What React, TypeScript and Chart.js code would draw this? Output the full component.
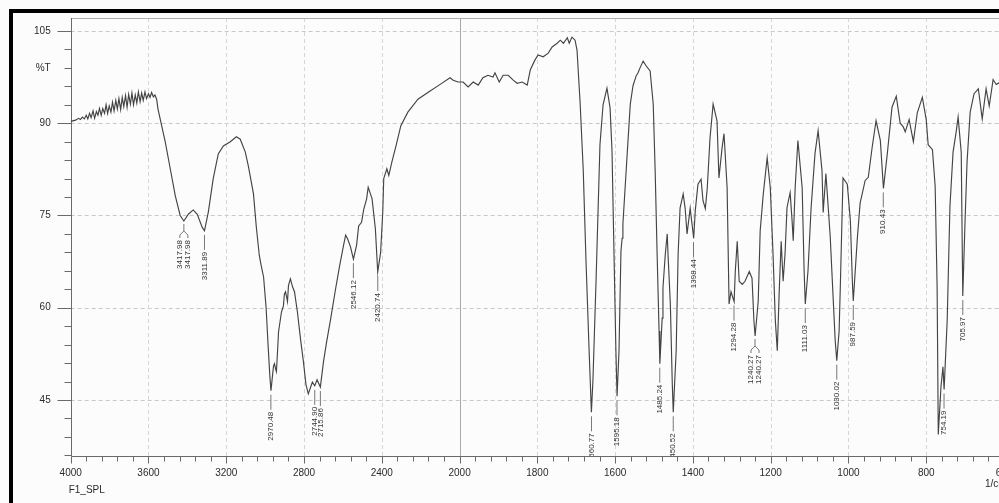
import React, { useEffect, useRef } from 'react';
import { Chart, registerables } from 'chart.js';

Chart.register(...registerables);

// Spectrum: wavenumber (1/cm) and transmittance (%T)
const wavenumbers = [
  4000, 3975, 3960, 3950, 3940, 3930, 3920, 3912, 3903, 3895, 3885, 3877, 3868, 3860, 3852, 3843, 3835, 3826, 3818, 3810,
  3802, 3793, 3785, 3777, 3768, 3760, 3752, 3743, 3735, 3727, 3718, 3710, 3702, 3693, 3685, 3677, 3668, 3660, 3652, 3643,
  3635, 3627, 3618, 3610, 3600, 3592, 3584, 3575, 3567, 3558, 3551, 3514, 3488, 3462, 3437, 3418, 3395, 3370, 3349, 3324,
  3312, 3292, 3267, 3241, 3215, 3179, 3148, 3128, 3102, 3086, 3060, 3045, 3030, 3020, 3008, 2995, 2985, 2976, 2970, 2962,
  2957, 2952, 2946, 2942, 2936, 2931, 2916, 2906, 2901, 2895, 2885, 2880, 2870, 2859, 2849, 2834, 2818, 2803, 2790, 2778,
  2765, 2757, 2745, 2733, 2716, 2700, 2684, 2663, 2638, 2617, 2597, 2586, 2576, 2561, 2546, 2530, 2519, 2504, 2493, 2478,
  2470, 2450, 2433, 2421, 2406, 2395, 2390, 2374, 2364, 2348, 2327, 2302, 2266, 2214, 2163, 2096, 2049, 2033, 2008, 1991,
  1978, 1965, 1952, 1940, 1927, 1914, 1909, 1898, 1888, 1875, 1862, 1852, 1839, 1826, 1818, 1806, 1798, 1785, 1772, 1762,
  1749, 1741, 1733, 1723, 1718, 1711, 1703, 1698, 1690, 1682, 1675, 1667, 1661, 1657, 1649, 1639, 1631, 1621, 1613, 1608,
  1603, 1598, 1595, 1590, 1585, 1582, 1580, 1569, 1561, 1554, 1546, 1541, 1536, 1528, 1520, 1510, 1502, 1497, 1492, 1487,
  1485, 1479, 1477, 1471, 1466, 1464, 1458, 1453, 1450.5, 1443, 1438, 1433, 1425, 1420, 1415, 1407, 1398, 1394, 1387, 1379,
  1374, 1368, 1363, 1356, 1348, 1338, 1333, 1325, 1320, 1312, 1307, 1302, 1294, 1291, 1286, 1281, 1273, 1266, 1255, 1248,
  1243, 1240, 1232, 1227, 1219, 1209, 1201, 1194, 1188, 1183, 1178, 1173, 1168, 1163, 1158, 1150, 1145, 1142, 1137, 1130,
  1119, 1114, 1111, 1104, 1096, 1086, 1078, 1068, 1065, 1058, 1047, 1039, 1034, 1030, 1024, 1021, 1014, 1003, 995, 990,
  987.6, 977, 970, 957, 949, 939, 929, 918, 910, 900, 888, 877, 867, 859, 854, 844, 833, 823, 810, 800,
  795, 784, 777, 772, 769, 762, 757, 754, 746, 739, 731, 723, 718, 710, 706, 700, 695, 687, 677, 666,
  656, 646, 638, 628, 620, 612, 600,
];

const transmittance = [
  90.3, 90.5, 90.8, 90.6, 91.0, 90.7, 91.3, 90.7, 91.6, 90.9, 92.0, 90.8, 91.9, 91.3, 92.4, 91.3, 92.4, 91.6, 93.0, 91.6,
  92.8, 91.8, 93.4, 92.0, 93.7, 92.3, 94.0, 92.2, 94.2, 92.7, 94.5, 92.6, 94.7, 93.1, 94.9, 93.0, 94.6, 93.3, 95.1, 93.5,
  94.9, 93.7, 95.1, 94.0, 94.8, 94.2, 95.0, 94.3, 94.6, 93.9, 92.3, 87.0, 82.6, 78.2, 75.0, 74.1, 75.2, 75.9, 75.2, 73.1,
  72.5, 75.6, 81.0, 85.0, 86.3, 87.0, 87.8, 87.4, 85.3, 83.0, 78.5, 73.0, 68.5, 66.8, 65.0, 60.0, 54.0, 49.0, 46.5, 49.0,
  50.5, 50.9, 50.0, 49.6, 53.0, 56.1, 59.3, 60.3, 62.2, 62.6, 61.0, 63.6, 64.7, 63.4, 62.6, 59.3, 54.9, 51.2, 47.5, 46.0,
  47.2, 47.9, 47.3, 48.3, 47.1, 51.2, 54.4, 58.2, 63.0, 66.8, 70.1, 71.8, 71.2, 69.9, 67.9, 70.1, 73.3, 73.9, 76.0, 77.7,
  79.6, 77.7, 72.8, 65.8, 69.0, 75.6, 81.0, 82.6, 81.5, 83.7, 86.3, 89.6, 91.8, 93.9, 95.0, 96.4, 97.4, 97.0, 96.7, 96.7,
  95.9, 96.7, 96.2, 97.4, 97.8, 97.5, 98.2, 96.7, 97.8, 97.8, 97.0, 96.5, 96.7, 96.2, 98.7, 100.3, 101.1, 100.8, 101.4, 102.4,
  103.0, 103.5, 103.0, 103.9, 103.0, 104.0, 103.5, 101.9, 93.3, 82.4, 67.8, 53.2, 43.0, 48.3, 64.5, 86.5, 93.0, 95.7, 92.5, 85.5,
  69.2, 53.0, 45.6, 53.0, 69.2, 71.3, 73.6, 85.0, 93.1, 96.1, 97.7, 98.2, 99.0, 100.1, 99.3, 98.5, 93.1, 82.2, 68.7, 56.2,
  50.9, 58.3, 63.2, 68.7, 72.0, 68.7, 60.6, 47.6, 43.0, 53.0, 68.7, 76.2, 78.5, 76.2, 72.0, 76.2, 71.3, 75.7, 80.1, 80.9,
  77.4, 76.1, 79.5, 87.6, 93.1, 90.4, 81.1, 86.0, 88.3, 79.5, 60.6, 62.6, 61.0, 65.9, 70.8, 64.3, 63.8, 64.3, 65.9, 64.8,
  57.8, 55.4, 61.1, 72.5, 78.5, 84.4, 79.5, 68.8, 57.9, 53.0, 62.7, 70.8, 64.3, 68.8, 76.3, 78.7, 74.2, 70.9, 79.5, 87.2,
  79.5, 66.0, 60.6, 66.0, 76.3, 85.1, 88.8, 82.3, 75.5, 81.8, 71.7, 61.1, 54.6, 51.4, 56.2, 63.2, 81.1, 80.1, 74.1, 64.4,
  61.1, 71.4, 77.0, 80.7, 81.2, 86.1, 90.4, 87.2, 79.4, 85.1, 92.6, 94.4, 90.0, 89.4, 88.6, 90.6, 87.0, 91.7, 94.2, 90.6,
  86.5, 85.7, 79.7, 63.4, 39.4, 47.2, 50.4, 46.7, 58.1, 76.5, 85.3, 88.6, 91.0, 85.3, 61.9, 74.4, 83.7, 91.8, 94.8, 95.6,
  90.7, 95.6, 92.8, 97.1, 96.3, 96.6, 96.8,
];

// Labelled peaks
const peakLabels = [
  { w: 3417.98, t: 74.1, text: '3417.98', twin: true },
  { w: 3311.89, t: 72.5, text: '3311.89' },
  { w: 2970.48, t: 46.5, text: '2970.48' },
  { w: 2744.9, t: 47.3, text: '2744.90' },
  { w: 2715.86, t: 47.1, text: '2715.86' },
  { w: 2546.12, t: 67.9, text: '2546.12' },
  { w: 2420.74, t: 65.8, text: '2420.74' },
  { w: 1660.77, t: 43.0, text: '1660.77' },
  { w: 1595.18, t: 45.6, text: '1595.18' },
  { w: 1485.24, t: 50.9, text: '1485.24' },
  { w: 1450.52, t: 43.0, text: '1450.52' },
  { w: 1398.44, t: 71.3, text: '1398.44' },
  { w: 1294.28, t: 61.0, text: '1294.28' },
  { w: 1240.27, t: 55.4, text: '1240.27', twin: true },
  { w: 1111.03, t: 60.6, text: '1111.03' },
  { w: 1030.02, t: 51.4, text: '1030.02' },
  { w: 987.59, t: 61.1, text: '987.59' },
  { w: 910.43, t: 79.4, text: '910.43' },
  { w: 754.19, t: 46.7, text: '754.19' },
  { w: 705.97, t: 61.9, text: '705.97' },
];

const xTickLabels = [4000, 3600, 3200, 2800, 2400, 2000, 1800, 1600, 1400, 1200, 1000, 800, 600];
const yMajorTicks = [105, 90, 75, 60, 45];
const yAxisTitle = '%T';
const yAxisTitleAt = 99;
const xAxisUnit = '1/cm';
const sampleName = 'F1_SPL';

// The instrument's x axis is expanded 2x below 2000 1/cm
const toU = (w: number) => (w >= 2000 ? 4000 - w : 2000 + 2 * (2000 - w));
const fromU = (u: number) => (u <= 2000 ? 4000 - u : 2000 - (u - 2000) / 2);

const FONT = '"Liberation Sans", Arial, sans-serif';
const TEXT = '#2b2b2b';

const decor = {
  id: 'decor',
  beforeDraw(chart: any) {
    const { ctx, width, height } = chart;
    ctx.save();
    ctx.fillStyle = '#fdfcfd';
    ctx.fillRect(0, 0, width, height);
    ctx.restore();
  },
  beforeDatasetsDraw(chart: any) {
    const { ctx, chartArea: a, scales } = chart;
    const xs = scales.x;
    const ys = scales.y;
    ctx.save();
    ctx.lineWidth = 1;
    ctx.strokeStyle = '#c9c9c9';
    ctx.setLineDash([4, 3]);
    for (const v of yMajorTicks) {
      const y = Math.round(ys.getPixelForValue(v)) + 0.5;
      ctx.beginPath();
      ctx.moveTo(a.left, y);
      ctx.lineTo(a.right, y);
      ctx.stroke();
    }
    ctx.strokeStyle = '#d6d6d6';
    for (const w of xTickLabels) {
      if (w === 4000 || w === 2000) continue;
      const x = Math.round(xs.getPixelForValue(toU(w))) + 0.5;
      ctx.beginPath();
      ctx.moveTo(x, a.top);
      ctx.lineTo(x, a.bottom);
      ctx.stroke();
    }
    ctx.setLineDash([]);
    const x2000 = Math.round(xs.getPixelForValue(toU(2000))) + 0.5;
    ctx.strokeStyle = '#a8a8a8';
    ctx.beginPath();
    ctx.moveTo(x2000, a.top);
    ctx.lineTo(x2000, a.bottom);
    ctx.stroke();
    ctx.strokeStyle = '#b0b0b0';
    ctx.beginPath();
    ctx.moveTo(a.left, Math.round(a.top) + 0.5);
    ctx.lineTo(a.right, Math.round(a.top) + 0.5);
    ctx.stroke();
    ctx.strokeStyle = '#6a6a6a';
    const L = Math.round(a.left) + 0.5;
    const B = Math.round(a.bottom) + 0.5;
    ctx.beginPath();
    ctx.moveTo(L, a.top);
    ctx.lineTo(L, B);
    ctx.lineTo(a.right, B);
    ctx.stroke();
    for (let v = 36; v <= 105; v += 3) {
      const y = Math.round(ys.getPixelForValue(v)) + 0.5;
      const len = v % 15 === 0 ? 14 : 7;
      ctx.beginPath();
      ctx.moveTo(L - len, y);
      ctx.lineTo(L, y);
      ctx.stroke();
    }
    for (let u = 0; u <= 4800; u += 80) {
      const x = Math.round(xs.getPixelForValue(u)) + 0.5;
      const len = u % 400 === 0 ? 7 : 5;
      ctx.beginPath();
      ctx.moveTo(x, B);
      ctx.lineTo(x, B + len);
      ctx.stroke();
    }
    ctx.restore();
  },
  afterDatasetsDraw(chart: any) {
    const { ctx, chartArea: a, scales } = chart;
    const xs = scales.x;
    const ys = scales.y;
    ctx.save();
    ctx.beginPath();
    ctx.rect(a.left, a.top, a.right - a.left, a.bottom - a.top);
    ctx.clip();
    ctx.strokeStyle = '#555';
    ctx.lineWidth = 0.8;
    ctx.fillStyle = '#333';
    ctx.font = `8px ${FONT}`;
    ctx.textAlign = 'right';
    ctx.textBaseline = 'middle';
    const drawText = (x: number, y: number, s: string) => {
      ctx.save();
      ctx.translate(x, y);
      ctx.rotate(-Math.PI / 2);
      ctx.fillText(s, 0, 0);
      ctx.restore();
    };
    for (const p of peakLabels) {
      const x = xs.getPixelForValue(toU(p.w));
      const y = ys.getPixelForValue(p.t);
      if (p.twin) {
        ctx.beginPath();
        ctx.moveTo(x, y + 3);
        ctx.lineTo(x, y + 10);
        ctx.moveTo(x, y + 10);
        ctx.lineTo(x - 4, y + 14);
        ctx.lineTo(x - 4, y + 17);
        ctx.moveTo(x, y + 10);
        ctx.lineTo(x + 4, y + 14);
        ctx.lineTo(x + 4, y + 17);
        ctx.stroke();
        drawText(x - 4, y + 19, p.text);
        drawText(x + 4, y + 19, p.text);
      } else {
        ctx.beginPath();
        ctx.moveTo(x, y + 4);
        ctx.lineTo(x, y + 19);
        ctx.stroke();
        drawText(x, y + 21, p.text);
      }
    }
    ctx.restore();
  },
  afterDraw(chart: any) {
    const { ctx, chartArea: a, scales, width, height } = chart;
    const xs = scales.x;
    ctx.save();
    ctx.fillStyle = TEXT;
    ctx.font = `10px ${FONT}`;
    ctx.textBaseline = 'middle';
    ctx.textAlign = 'left';
    ctx.fillText(sampleName, a.left - 2, 490);
    ctx.fillText(xAxisUnit, xs.getPixelForValue(toU(600)) - 19, 484);
    ctx.fillStyle = '#000';
    ctx.fillRect(9, 9, width, 4);
    ctx.fillRect(9, 9, 4, height);
    ctx.restore();
  },
};

export default function App() {
  const ref = useRef<HTMLCanvasElement>(null);
  useEffect(() => {
    document.body.style.margin = '0';
    document.body.style.overflow = 'hidden';
    const canvas = ref.current;
    if (!canvas) return;
    const points = wavenumbers.map((w, i) => ({ x: toU(w), y: transmittance[i] }));
    const chart = new Chart(canvas, {
      type: 'line',
      data: {
        datasets: [
          {
            data: points,
            borderColor: '#444444',
            borderWidth: 1.15,
            pointRadius: 0,
            tension: 0,
            fill: false,
          },
        ],
      },
      options: {
        responsive: false,
        animation: false,
        events: [],
        layout: { padding: { top: 18, right: 36, left: 0, bottom: 0 } },
        plugins: { legend: { display: false }, tooltip: { enabled: false } },
        scales: {
          x: {
            type: 'linear',
            min: 0,
            max: 4800,
            grid: { display: false, drawTicks: false },
            border: { display: false },
            afterBuildTicks: (s: any) => {
              s.ticks = xTickLabels.map((w) => ({ value: toU(w) }));
            },
            afterFit: (s: any) => {
              s.height = 47;
              s.paddingLeft = 0;
              s.paddingRight = 0;
            },
            ticks: {
              autoSkip: false,
              maxRotation: 0,
              padding: 11,
              color: TEXT,
              font: { family: FONT, size: 10 },
              callback: (v: any) => String(Math.round(fromU(Number(v)))),
            },
          },
          y: {
            type: 'linear',
            min: 35.89,
            max: 107.11,
            grid: { display: false, drawTicks: false },
            border: { display: false },
            afterBuildTicks: (s: any) => {
              s.ticks = [...yMajorTicks, yAxisTitleAt].map((v) => ({ value: v }));
            },
            afterFit: (s: any) => {
              s.width = 70.7;
              s.paddingTop = 0;
              s.paddingBottom = 0;
            },
            ticks: {
              padding: 20,
              color: TEXT,
              font: { family: FONT, size: 10 },
              callback: (v: any) => (Number(v) === yAxisTitleAt ? yAxisTitle : String(v)),
            },
          },
        },
      },
      plugins: [decor],
    });
    return () => chart.destroy();
  }, []);
  return (
    <canvas
      ref={ref}
      width={1040}
      height={503}
      style={{ display: 'block', position: 'absolute', left: 0, top: 0 }}
    />
  );
}
